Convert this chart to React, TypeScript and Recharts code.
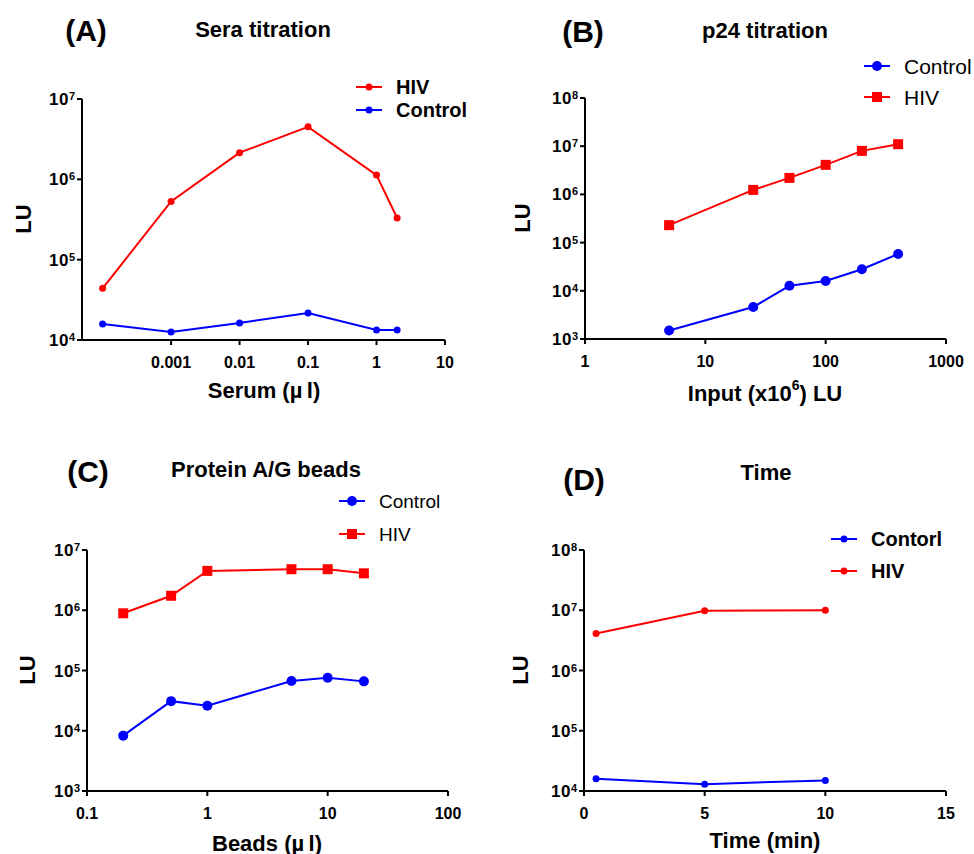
import React from "react";
import { LineChart, Line, XAxis, YAxis } from "recharts";

const FONT = "'Liberation Sans', Arial, sans-serif";
const RED = "#ff0000";
const BLUE = "#0000ff";

// (A) Sera titration
const seraX = [0.0001, 0.001, 0.01, 0.1, 1, 2];
const seraHiv = [44000, 530000, 2150000, 4500000, 1130000, 330000];
const seraControl = [15800, 12600, 16300, 21700, 13300, 13300];
const seraXTicks = [0.001, 0.01, 0.1, 1, 10];
const seraYTicks = [1e4, 1e5, 1e6, 1e7];

// (B) p24 titration
const p24X = [5, 25, 50, 100, 200, 400];
const p24Control = [1500, 4600, 12700, 16000, 28000, 58000];
const p24Hiv = [230000, 1240000, 2200000, 4100000, 8000000, 11000000];
const p24XTicks = [1, 10, 100, 1000];
const p24YTicks = [1e3, 1e4, 1e5, 1e6, 1e7, 1e8];

// (C) Protein A/G beads
const beadsX = [0.2, 0.5, 1, 5, 10, 20];
const beadsControl = [8300, 31000, 26000, 67000, 76000, 66000];
const beadsHiv = [890000, 1740000, 4500000, 4800000, 4800000, 4100000];
const beadsXTicks = [0.1, 1, 10, 100];
const beadsYTicks = [1e3, 1e4, 1e5, 1e6, 1e7];

// (D) Time
const timeX = [0.5, 5, 10];
const timeControl = [16000, 13000, 15000];
const timeHiv = [4100000, 9800000, 10000000];
const timeXTicks = [0, 5, 10, 15];
const timeYTicks = [1e4, 1e5, 1e6, 1e7, 1e8];

const zip = (xs: number[], hiv: number[], control: number[]) =>
  xs.map((x, i) => ({ x, hiv: hiv[i], control: control[i] }));

function XTick({ x, y, payload }: any) {
  return (
    <text x={x} y={y} dy="0.71em" textAnchor="middle" fontFamily={FONT} fontWeight="bold" fontSize={16} fill="#000">
      {String(payload.value)}
    </text>
  );
}

function PowTick({ x, y, payload }: any) {
  const exp = Math.round(Math.log10(payload.value));
  return (
    <text x={x} y={y} textAnchor="end" fontFamily={FONT} fontWeight="bold" fontSize={17} fill="#000">
      <tspan style={{ fontSize: 17, letterSpacing: 0.5 }} dy={6}>10</tspan>
      <tspan style={{ fontSize: 11 }} dy={-5}>{exp}</tspan>
    </text>
  );
}

const circleDot = (r: number, color: string) => ({ r, fill: color, stroke: color, strokeWidth: 0 });

const squareDot = (size: number, color: string) => (p: any) => (
  <rect key={p.index} x={p.cx - size / 2} y={p.cy - size / 2} width={size} height={size} fill={color} />
);

interface SeriesDef {
  key: string;
  color: string;
  dot: any;
}

interface PanelProps {
  left: number;
  top: number;
  data: any[];
  plot: { l: number; t: number; r: number; b: number };
  xScale: "log" | "linear";
  xDomain: number[];
  xTicks: number[];
  yDomain: number[];
  yTicks: number[];
  series: SeriesDef[];
}

function Panel({ left, top, data, plot, xScale, xDomain, xTicks, yDomain, yTicks, series }: PanelProps) {
  const axisStyle = { stroke: "#000", strokeWidth: 2 };
  return (
    <div style={{ position: "absolute", left, top }}>
      <LineChart
        width={487}
        height={427}
        data={data}
        margin={{ top: plot.t, right: 487 - plot.r, bottom: 427 - plot.b - 30, left: 0 }}
      >
        <XAxis
          dataKey="x"
          type="number"
          scale={xScale}
          domain={xDomain}
          ticks={xTicks}
          interval={0}
          allowDataOverflow
          height={30}
          axisLine={axisStyle}
          tickLine={axisStyle}
          tickSize={5}
          tickMargin={12}
          tick={<XTick />}
        />
        <YAxis
          type="number"
          scale="log"
          domain={yDomain}
          ticks={yTicks}
          interval={0}
          allowDataOverflow
          width={plot.l}
          axisLine={axisStyle}
          tickLine={axisStyle}
          tickSize={5}
          tickMargin={2}
          tick={<PowTick />}
        />
        {series.map((s) => (
          <Line
            key={s.key}
            dataKey={s.key}
            stroke={s.color}
            strokeWidth={2}
            dot={s.dot}
            activeDot={false}
            isAnimationActive={false}
          />
        ))}
      </LineChart>
    </div>
  );
}

interface LegendRow {
  x1: number;
  x2: number;
  y: number;
  color: string;
  shape: "circle" | "square";
  size: number;
  textX: number;
  label: string;
  fontSize: number;
  bold: boolean;
}

const legendRows: LegendRow[] = [
  { x1: 356, x2: 382, y: 87, color: RED, shape: "circle", size: 3.5, textX: 396, label: "HIV", fontSize: 20, bold: true },
  { x1: 356, x2: 382, y: 110, color: BLUE, shape: "circle", size: 3.5, textX: 396, label: "Control", fontSize: 20, bold: true },
  { x1: 864, x2: 890, y: 66, color: BLUE, shape: "circle", size: 5, textX: 904, label: "Control", fontSize: 21, bold: false },
  { x1: 864, x2: 890, y: 97, color: RED, shape: "square", size: 10, textX: 904, label: "HIV", fontSize: 21, bold: false },
  { x1: 339, x2: 365, y: 501, color: BLUE, shape: "circle", size: 5, textX: 379, label: "Control", fontSize: 19, bold: false },
  { x1: 339, x2: 365, y: 534, color: RED, shape: "square", size: 10, textX: 379, label: "HIV", fontSize: 19, bold: false },
  { x1: 831, x2: 857, y: 539, color: BLUE, shape: "circle", size: 3.5, textX: 871, label: "Contorl", fontSize: 20, bold: true },
  { x1: 831, x2: 857, y: 571, color: RED, shape: "circle", size: 3.5, textX: 871, label: "HIV", fontSize: 20, bold: true },
];

const labels = [
  { x: 86, y: 30, t: "(A)", size: 30 },
  { x: 263, y: 29, t: "Sera titration", size: 22 },
  { x: 583, y: 31, t: "(B)", size: 30 },
  { x: 765, y: 30, t: "p24 titration", size: 22 },
  { x: 88, y: 471, t: "(C)", size: 30 },
  { x: 266, y: 469, t: "Protein A/G beads", size: 22 },
  { x: 584, y: 479, t: "(D)", size: 30 },
  { x: 766, y: 472, t: "Time", size: 22 },
  { x: 264, y: 390, t: "Serum (\u00b5\u2009l)", size: 22 },
  { x: 267, y: 843, t: "Beads (\u00b5\u2009l)", size: 22 },
  { x: 765, y: 840, t: "Time (min)", size: 22 },
];

const yLabels = [
  { x: 23, y: 219 },
  { x: 522, y: 218 },
  { x: 27, y: 670 },
  { x: 520, y: 670 },
];

function Overlay() {
  return (
    <svg width={974} height={854} style={{ position: "absolute", left: 0, top: 0, pointerEvents: "none" }}>
      {labels.map((l) => (
        <text key={l.t} x={l.x} y={l.y} textAnchor="middle" dominantBaseline="central" fontFamily={FONT} fontWeight="bold" fontSize={l.size} fill="#000">
          {l.t}
        </text>
      ))}
      <text x={765} y={393} textAnchor="middle" dominantBaseline="central" fontFamily={FONT} fontWeight="bold" fontSize={22} fill="#000">
        Input (x10<tspan fontSize={14} dy={-8}>6</tspan><tspan dy={8}>) LU</tspan>
      </text>
      {yLabels.map((l, i) => (
        <text key={i} x={l.x} y={l.y} transform={`rotate(-90 ${l.x} ${l.y})`} textAnchor="middle" dominantBaseline="central" fontFamily={FONT} fontWeight="bold" fontSize={22} fill="#000">
          LU
        </text>
      ))}
      {legendRows.map((r, i) => {
        const cx = (r.x1 + r.x2) / 2;
        return (
          <g key={i}>
            <line x1={r.x1} x2={r.x2} y1={r.y} y2={r.y} stroke={r.color} strokeWidth={2} />
            {r.shape === "circle" ? (
              <circle cx={cx} cy={r.y} r={r.size} fill={r.color} />
            ) : (
              <rect x={cx - r.size / 2} y={r.y - r.size / 2} width={r.size} height={r.size} fill={r.color} />
            )}
            <text x={r.textX} y={r.y} dominantBaseline="central" fontFamily={FONT} fontWeight={r.bold ? "bold" : "normal"} fontSize={r.fontSize} fill="#000">
              {r.label}
            </text>
          </g>
        );
      })}
    </svg>
  );
}

export default function App() {
  return (
    <div style={{ position: "relative", width: 974, height: 854, background: "#fff" }}>
      <style>{"html, body { margin: 0; padding: 0; }"}</style>
      <Panel
        left={0}
        top={0}
        data={zip(seraX, seraHiv, seraControl)}
        plot={{ l: 82, t: 99, r: 445, b: 340 }}
        xScale="log"
        xDomain={[0.00005, 10]}
        xTicks={seraXTicks}
        yDomain={[1e4, 1e7]}
        yTicks={seraYTicks}
        series={[
          { key: "hiv", color: RED, dot: circleDot(3.5, RED) },
          { key: "control", color: BLUE, dot: circleDot(3.5, BLUE) },
        ]}
      />
      <Panel
        left={487}
        top={0}
        data={zip(p24X, p24Hiv, p24Control)}
        plot={{ l: 98, t: 98, r: 459, b: 339 }}
        xScale="log"
        xDomain={[1, 1000]}
        xTicks={p24XTicks}
        yDomain={[1e3, 1e8]}
        yTicks={p24YTicks}
        series={[
          { key: "hiv", color: RED, dot: squareDot(10, RED) },
          { key: "control", color: BLUE, dot: circleDot(5, BLUE) },
        ]}
      />
      <Panel
        left={0}
        top={427}
        data={zip(beadsX, beadsHiv, beadsControl)}
        plot={{ l: 87, t: 123, r: 448, b: 364 }}
        xScale="log"
        xDomain={[0.1, 100]}
        xTicks={beadsXTicks}
        yDomain={[1e3, 1e7]}
        yTicks={beadsYTicks}
        series={[
          { key: "hiv", color: RED, dot: squareDot(10, RED) },
          { key: "control", color: BLUE, dot: circleDot(5, BLUE) },
        ]}
      />
      <Panel
        left={487}
        top={427}
        data={zip(timeX, timeHiv, timeControl)}
        plot={{ l: 97, t: 123, r: 459, b: 364 }}
        xScale="linear"
        xDomain={[0, 15]}
        xTicks={timeXTicks}
        yDomain={[1e4, 1e8]}
        yTicks={timeYTicks}
        series={[
          { key: "hiv", color: RED, dot: circleDot(3.5, RED) },
          { key: "control", color: BLUE, dot: circleDot(3.5, BLUE) },
        ]}
      />
      <Overlay />
    </div>
  );
}
